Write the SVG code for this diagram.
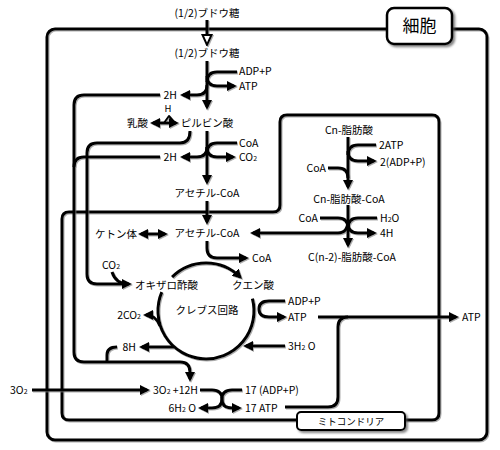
<svg xmlns="http://www.w3.org/2000/svg" width="500" height="450" viewBox="0 0 500 450">
<defs>
<marker id="arr" viewBox="0 0 10 10" refX="7" refY="5" markerWidth="10" markerHeight="10" markerUnits="userSpaceOnUse" orient="auto-start-reverse"><path d="M0,0 L10,5 L0,10 z" fill="#000"/></marker>
<marker id="harr" viewBox="0 0 12 12" refX="6" refY="6" markerWidth="12" markerHeight="12" markerUnits="userSpaceOnUse" orient="auto"><path d="M1,1.5 L11,6 L1,10.5 z" fill="#fff" stroke="#000" stroke-width="2"/></marker>
<filter id="sh" x="-10%" y="-10%" width="130%" height="130%"><feDropShadow dx="1" dy="1" stdDeviation="0.7" flood-color="#777" flood-opacity="0.6"/></filter>
<filter id="bsh" x="-10%" y="-10%" width="130%" height="140%"><feDropShadow dx="2" dy="2" stdDeviation="1.2" flood-color="#555" flood-opacity="0.7"/></filter>
</defs>
<style>
text{font-family:"Noto Sans CJK JP","Noto Sans",sans-serif;font-size:10.5px;fill:#000}
.m{text-anchor:middle}
.e{text-anchor:end}
.ln{fill:none;stroke:#000;stroke-width:3;stroke-linejoin:round}
.a{marker-end:url(#arr)}
.d{marker-start:url(#arr);marker-end:url(#arr)}
.sub{font-size:7px}
</style>
<rect width="500" height="450" fill="#fff"/>
<g id="cell">
<rect x="47" y="29" width="440" height="411" rx="8" class="ln" filter="url(#sh)"/>
<rect x="387" y="8" width="65" height="36" rx="7" fill="#fff" stroke="#000" stroke-width="2.5" filter="url(#bsh)"/>
<text x="419.5" y="32" class="m" style="font-size:17px">細胞</text>
</g>
<g id="mitochondria">
<path class="ln" filter="url(#sh)" d="M297,420 H69 Q62,420 62,413 V219 Q62,212 69,212 H273 Q280,212 280,205 V122 Q280,115 287,115 H432 Q439,115 439,122 V413 Q439,420 432,420 H405"/>
<rect x="297" y="412" width="108" height="18" rx="4" fill="#fff" stroke="#000" stroke-width="2" filter="url(#bsh)"/>
<text x="351" y="425" class="m" style="font-size:9.5px">ミトコンドリア</text>
</g>
<g id="connectors" filter="url(#sh)">
<path class="ln" d="M207,20 V40" marker-end="url(#harr)"/>
<path class="ln a" d="M207,61 V107"/>
<path class="ln" d="M237,72 H217 Q207,72 207,82"/>
<path class="ln a" d="M207,76 Q207,86 217,86 H234"/>
<path class="ln a" d="M207,85 Q207,95 197,95 H183"/>
<path class="ln d" d="M153,123 H176"/>
<path class="ln" style="stroke-width:2" d="M164,123 L169,116 L175,123"/>
<path class="ln a" d="M190,131 Q190,143 180,143 H97 Q87,143 87,153 V274 Q87,284 97,284 H129"/>
<path class="ln" d="M112,272 Q116,284 128,284"/>
<path class="ln a" d="M207,131 V182"/>
<path class="ln" d="M237,143 H217 Q207,143 207,153"/>
<path class="ln a" d="M207,147 Q207,157 217,157 H233"/>
<path class="ln a" d="M207,147 Q207,157 197,157 H183"/>
<path class="ln" d="M160,157 H84 Q74,157 74,167"/>
<path class="ln a" d="M160,95 H84 Q74,95 74,105 V352 Q74,362 84,362 H180 Q190,362 190,372 V379"/>
<path class="ln" d="M117,347 Q107,347 107,355 V362"/>
<path class="ln a" d="M207,201 V222"/>
<path class="ln d" d="M141,234 H165"/>
<path class="ln a" d="M348,220 Q348,233 338,233 H253"/>
<path class="ln a" d="M207,241 V248 Q207,258 217,258 H246"/>
<path class="ln a" d="M172.1,277.1 A48,48 0 0 1 240,277"/>
<path class="ln" d="M161.8,292.2 A48,48 0 1 0 252.4,298.6"/>
<path class="ln a" d="M160,326 Q156,315 146,315"/>
<path class="ln a" d="M174,347 H142"/>
<path class="ln a" d="M285,346 H246"/>
<path class="ln a" d="M285,301 H269 Q259,301 259,309 Q259,317 269,317 H284"/>
<path class="ln a" d="M318,317 H456"/>
<path class="ln" d="M285,407 H328 Q338,407 338,397 V327 Q338,317 348,317"/>
<path class="ln a" d="M32,390 H147"/>
<path class="ln a" d="M200,390 H212 Q222,390 222,399 Q222,408 212,408 H201"/>
<path class="ln a" d="M242,390 H232 Q222,390 222,399 Q222,408 232,408 H239"/>
<path class="ln a" d="M348,137 V187"/>
<path class="ln" d="M376,145 H358 Q348,145 348,155"/>
<path class="ln a" d="M348,151 Q348,161 358,161 H374"/>
<path class="ln" d="M328,168 H338 Q348,168 348,178"/>
<path class="ln a" d="M348,205 V245"/>
<path class="ln" d="M320,218 H338 Q348,218 348,228"/>
<path class="ln" d="M377,218 H358 Q348,218 348,228"/>
<path class="ln a" d="M348,223 Q348,233 358,233 H374"/>
</g>
<g id="labels">
<text x="207" y="17" class="m">(1/2)ブドウ糖</text>
<text x="207" y="57" class="m">(1/2)ブドウ糖</text>
<text x="239" y="75">ADP+P</text>
<text x="239" y="90">ATP</text>
<text x="177" y="99" class="e">2H</text>
<text x="168" y="112" class="m" style="font-size:9.5px">H</text>
<text x="148" y="127" class="e">乳酸</text>
<text x="207" y="127" class="m">ピルビン酸</text>
<text x="239" y="147">CoA</text>
<text x="239" y="161">CO<tspan class="sub">2</tspan></text>
<text x="177" y="161" class="e">2H</text>
<text x="207" y="197" class="m">アセチル-CoA</text>
<text x="207" y="237" class="m">アセチル-CoA</text>
<text x="137" y="238" class="e">ケトン体</text>
<text x="252" y="262">CoA</text>
<text x="102" y="269">CO<tspan class="sub">2</tspan></text>
<text x="135" y="289">オキザロ酢酸</text>
<text x="232" y="289">クエン酸</text>
<text x="207" y="314" class="m">クレブス回路</text>
<text x="141" y="319" class="e">2CO<tspan class="sub">2</tspan></text>
<text x="288" y="305">ADP+P</text>
<text x="288" y="321">ATP</text>
<text x="462" y="321">ATP</text>
<text x="136" y="351" class="e">8H</text>
<text x="288" y="350">3H<tspan class="sub">2</tspan> O</text>
<text x="10" y="394">3O<tspan class="sub">2</tspan></text>
<text x="153" y="394">3O<tspan class="sub">2</tspan> +12H</text>
<text x="196" y="412" class="e">6H<tspan class="sub">2</tspan> O</text>
<text x="245" y="394">17 (ADP+P)</text>
<text x="245" y="412">17 ATP</text>
<text x="349" y="134" class="m">Cn-脂肪酸</text>
<text x="379" y="149">2ATP</text>
<text x="380" y="165.5">2(ADP+P)</text>
<text x="326" y="172" class="e">CoA</text>
<text x="349" y="203" class="m">Cn-脂肪酸-CoA</text>
<text x="318" y="222" class="e">CoA</text>
<text x="380" y="222">H<tspan class="sub">2</tspan>O</text>
<text x="380" y="237">4H</text>
<text x="308" y="261">C(n-2)-脂肪酸-CoA</text>
</g>
</svg>
